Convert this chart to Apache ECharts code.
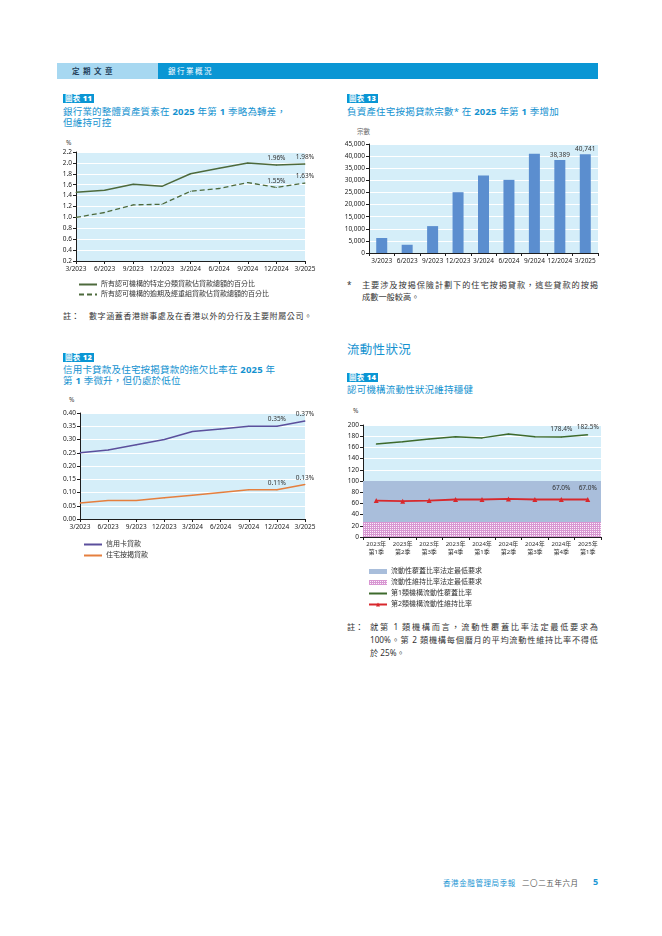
<!DOCTYPE html>
<html>
<head>
<meta charset="utf-8">
<script src="https://cdn.jsdelivr.net/npm/echarts@6/dist/echarts.min.js"></script>
<style>
  html, body { margin: 0; padding: 0; background: #fff; }
  body { width: 662px; height: 936px; position: relative; overflow: hidden;
         font-family: 'Noto Sans', 'Noto Sans CJK TC', sans-serif; }
  .abs { position: absolute; white-space: nowrap; }
  .tag { position: absolute; background: #0a96d4; color: #fff; font-size: 7.5px; font-weight: bold;
         height: 9px; line-height: 9px; padding: 0 2px; letter-spacing: 0.3px; }
  .title { position: absolute; color: #1492d0; font-size: 9.5px; line-height: 10.5px; letter-spacing: 0.2px; white-space: nowrap; }
  .title b { font-weight: bold; }
  .unit { position: absolute; font-size: 6.5px; color: #444; }
  .note { position: absolute; font-size: 8.2px; color: #333; line-height: 12.5px; white-space: nowrap; }
  .jl { text-align: justify; text-align-last: justify; white-space: normal; }
  .chart { position: absolute; }
</style>
</head>
<body>
<!-- page header -->
<div class="abs" style="left:57px;top:63px;width:101px;height:16px;background:#a7d8f1;"></div>
<div class="abs" style="left:158px;top:63px;width:440px;height:16px;background:#0a96d4;"></div>
<div class="abs" style="left:72px;top:63px;line-height:16px;font-size:7.5px;font-weight:bold;color:#23405a;letter-spacing:3.5px;">定期文章</div>
<div class="abs" style="left:168px;top:63px;line-height:16px;font-size:7.5px;color:#fff;letter-spacing:1.5px;">銀行業概況</div>

<!-- chart 11 texts -->
<div class="tag" style="left:63px;top:94px;">圖表 <b>11</b></div>
<div class="title" style="left:63px;top:107px;">銀行業的整體資產質素在 <b>2025</b> 年第 <b>1</b> 季略為轉差，<br>但維持可控</div>
<div class="unit" style="left:66px;top:138px;">%</div>
<div id="c11" class="chart" style="left:55px;top:135px;width:270px;height:170px;"></div>
<div class="note" style="left:63px;top:310px;">註：</div>
<div class="note" style="left:89px;top:310px;font-size:8px;letter-spacing:0.6px;">數字涵蓋香港辦事處及在香港以外的分行及主要附屬公司。</div>

<!-- chart 12 texts -->
<div class="tag" style="left:63px;top:353px;">圖表 <b>12</b></div>
<div class="title" style="left:63px;top:365px;">信用卡貸款及住宅按揭貸款的拖欠比率在 <b>2025</b> 年<br>第 <b>1</b> 季微升，但仍處於低位</div>
<div class="unit" style="left:69px;top:395px;">%</div>
<div id="c12" class="chart" style="left:55px;top:390px;width:270px;height:175px;"></div>

<!-- chart 13 texts -->
<div class="tag" style="left:347px;top:94px;">圖表 <b>13</b></div>
<div class="title" style="left:347px;top:107px;">負資產住宅按揭貸款宗數* 在 <b>2025</b> 年第 <b>1</b> 季增加</div>
<div class="unit" style="left:357px;top:126px;color:#666;">宗數</div>
<div id="c13" class="chart" style="left:335px;top:120px;width:270px;height:148px;"></div>
<div class="note" style="left:347px;top:279px;">*</div>
<div class="note jl" style="left:362px;top:279px;width:236px;">主要涉及按揭保險計劃下的住宅按揭貸款，這些貸款的按揭</div>
<div class="note" style="left:362px;top:291px;">成數一般較高。</div>

<!-- chart 14 texts -->
<div class="abs" style="left:347px;top:339px;font-size:12.5px;color:#1492d0;letter-spacing:0.3px;">流動性狀況</div>
<div class="tag" style="left:347px;top:373px;">圖表 <b>14</b></div>
<div class="title" style="left:347px;top:385px;">認可機構流動性狀況維持穩健</div>
<div class="unit" style="left:353px;top:406px;">%</div>
<div id="c14" class="chart" style="left:335px;top:400px;width:270px;height:215px;"></div>
<div class="note" style="left:347px;top:621px;">註：</div>
<div class="note jl" style="left:370px;top:621px;width:228px;">就第 1 類機構而言，流動性覆蓋比率法定最低要求為</div>
<div class="note jl" style="left:370px;top:634px;width:228px;">100%。第 2 類機構每個曆月的平均流動性維持比率不得低</div>
<div class="note" style="left:370px;top:647px;">於 25%。</div>

<!-- footer -->
<div class="abs" style="left:443px;top:877px;font-size:7.5px;color:#1a96d4;letter-spacing:0.6px;">香港金融管理局季報</div>
<div class="abs" style="left:522px;top:877px;font-size:7.5px;color:#555;letter-spacing:0.6px;">二〇二五年六月</div>
<div class="abs" style="left:593px;top:875px;font-size:9px;font-weight:bold;color:#1a96d4;">5</div>

<script>
// ---- data ----
const quarters = ['3/2023', '6/2023', '9/2023', '12/2023', '3/2024', '6/2024', '9/2024', '12/2024', '3/2025'];
const classifiedPct = [1.46, 1.50, 1.61, 1.57, 1.80, 1.90, 2.00, 1.96, 1.98];
const overduePct = [1.00, 1.09, 1.23, 1.24, 1.48, 1.53, 1.64, 1.55, 1.63];
const negEquityCases = [6200, 3400, 11100, 25100, 32000, 30200, 41000, 38389, 40741];
const creditCardPct = [0.25, 0.26, 0.28, 0.30, 0.33, 0.34, 0.35, 0.35, 0.37];
const mortgagePct = [0.06, 0.07, 0.07, 0.08, 0.09, 0.10, 0.11, 0.11, 0.13];
const liqQuarters = ['2023年\n第1季', '2023年\n第2季', '2023年\n第3季', '2023年\n第4季',
  '2024年\n第1季', '2024年\n第2季', '2024年\n第3季', '2024年\n第4季', '2025年\n第1季'];
const lcrPct = [166, 170, 175, 179, 177, 184, 179, 178.4, 182.5];
const lmrPct = [65, 64, 65, 67, 67, 68, 67, 67.0, 67.0];
const lcrFloor = 100;
const lmrFloor = 27;

const FONT = "'Noto Sans','Noto Sans CJK TC',sans-serif";
const BG = '#d5eef9';
const AX = '#1e1e1e';

// only the last two points carry a value label
function lastTwo(fmt) {
  return function (p) { return p.dataIndex >= 7 ? fmt(p.value) : ''; };
}

function catAxis(data, gap, extra) {
  return Object.assign({
    type: 'category', data: data, boundaryGap: gap,
    axisLine: { show: true, lineStyle: { color: AX, width: 1 } },
    axisTick: { show: true, length: 3, lineStyle: { color: AX } },
    axisLabel: { fontSize: 6.5, color: '#222', margin: 5, interval: 0, fontFamily: FONT },
    splitLine: { show: false }
  }, extra || {});
}

function valAxis(min, max, step, fmt) {
  return {
    type: 'value', min: min, max: max, interval: step,
    axisLine: { show: true, lineStyle: { color: AX, width: 1 } },
    axisTick: { show: true, length: 3, lineStyle: { color: AX } },
    axisLabel: { fontSize: 6.5, color: '#222', margin: 4, formatter: fmt, fontFamily: FONT },
    splitLine: { show: true, lineStyle: { color: '#ffffff', width: 1 } }
  };
}

function legendBox(left, top, gap) {
  return {
    orient: 'vertical', left: left, top: top, itemGap: gap, itemWidth: 18, itemHeight: 6,
    selectedMode: false,
    textStyle: { fontSize: 7, color: '#333', fontFamily: FONT, padding: [0, 0, 0, -1] }
  };
}

function grid(l, t, r, b) {
  return { left: l, top: t, right: r, bottom: b, show: true, backgroundColor: BG, borderWidth: 0,
           containLabel: false, outerBoundsMode: 'none' };
}

const labelStyle = { show: true, position: 'top', distance: 3, fontSize: 6.5, color: '#333', fontFamily: FONT };
const noDot = { opacity: 0 };   // hide the symbol in a legend icon, keep its line

function pctLabel(digits, dist) {
  return Object.assign({}, labelStyle, { distance: dist,
    formatter: lastTwo(function (v) { return v.toFixed(digits) + '%'; }) });
}

// ---- chart 11 ----
echarts.init(document.getElementById('c11')).setOption({
  animation: false,
  textStyle: { fontFamily: FONT },
  grid: grid(21, 17, 20, 44),
  xAxis: catAxis(quarters, false),
  yAxis: valAxis(0.2, 2.2, 0.2, function (v) { return v.toFixed(1); }),
  legend: Object.assign(legendBox(18, 141, 3), {
    data: [
      { name: '所有認可機構的特定分類貸款佔貸款總額的百分比', itemStyle: noDot },
      { name: '所有認可機構的逾期及經重組貸款佔貸款總額的百分比', itemStyle: noDot }
    ]
  }),
  series: [
    { name: '所有認可機構的特定分類貸款佔貸款總額的百分比', type: 'line', data: classifiedPct,
      symbol: 'circle', symbolSize: 1, lineStyle: { color: '#4d6a3c', width: 1.5 }, itemStyle: { color: '#4d6a3c' },
      label: pctLabel(2, 3) },
    { name: '所有認可機構的逾期及經重組貸款佔貸款總額的百分比', type: 'line', data: overduePct,
      symbol: 'circle', symbolSize: 1, lineStyle: { color: '#4d6a3c', width: 1.3, type: [5, 3] }, itemStyle: { color: '#4d6a3c' },
      label: pctLabel(2, 3) }
  ]
});

// ---- chart 12 ----
echarts.init(document.getElementById('c12')).setOption({
  animation: false,
  textStyle: { fontFamily: FONT },
  grid: grid(25, 23, 20, 46),
  xAxis: catAxis(quarters, false),
  yAxis: valAxis(0, 0.40, 0.05, function (v) { return v.toFixed(2); }),
  legend: Object.assign(legendBox(23, 146, 4), {
    data: [{ name: '信用卡貸款', itemStyle: noDot }, { name: '住宅按揭貸款', itemStyle: noDot }]
  }),
  series: [
    { name: '信用卡貸款', type: 'line', data: creditCardPct, symbol: 'circle', symbolSize: 1,
      lineStyle: { color: '#5b4f9c', width: 1.5 }, itemStyle: { color: '#5b4f9c' },
      label: pctLabel(2, 3) },
    { name: '住宅按揭貸款', type: 'line', data: mortgagePct, symbol: 'circle', symbolSize: 1,
      lineStyle: { color: '#e57f3e', width: 1.5 }, itemStyle: { color: '#e57f3e' },
      label: pctLabel(2, 3) }
  ]
});

// ---- chart 13 ----
echarts.init(document.getElementById('c13')).setOption({
  animation: false,
  textStyle: { fontFamily: FONT },
  grid: grid(34, 24, 7, 15),
  xAxis: catAxis(quarters, true),
  yAxis: valAxis(0, 45000, 5000, function (v) { return v.toLocaleString('en-US'); }),
  series: [
    { type: 'bar', data: negEquityCases, barWidth: 11, itemStyle: { color: '#5b8ecf' },
      label: Object.assign({}, labelStyle, { distance: 2,
        formatter: lastTwo(function (v) { return v.toLocaleString('en-US'); }) }) }
  ]
});

// ---- chart 14 ----
// pink grid texture for the liquidity-maintenance floor band
function dotPattern() {
  const c = document.createElement('canvas');
  c.width = 2; c.height = 2;
  const g = c.getContext('2d');
  g.fillStyle = '#d896d2';
  g.fillRect(0, 0, 2, 2);
  g.fillStyle = '#fbf1fa';
  g.fillRect(1, 1, 1, 1);
  return c;
}
const pinkDots = { image: dotPattern(), repeat: 'repeat' };
const LCR_FLOOR = '流動性覆蓋比率法定最低要求';
const LMR_FLOOR = '流動性維持比率法定最低要求';
const LCR = '第1類機構流動性覆蓋比率';
const LMR = '第2類機構流動性維持比率';

echarts.init(document.getElementById('c14')).setOption({
  animation: false,
  textStyle: { fontFamily: FONT },
  grid: grid(28, 25, 4, 78),
  xAxis: catAxis(liqQuarters, true, {
    axisLabel: { fontSize: 6, color: '#333', margin: 3, interval: 0, lineHeight: 8, fontFamily: FONT }
  }),
  yAxis: valAxis(0, 200, 20, function (v) { return String(v); }),
  legend: Object.assign(legendBox(28, 163, 4), {
    itemWidth: 18, itemHeight: 5,
    data: [
      { name: LCR_FLOOR, icon: 'rect', itemStyle: { color: '#a9bedb' } },
      { name: LMR_FLOOR, icon: 'rect', itemStyle: { color: pinkDots } },
      { name: LCR, itemStyle: noDot },
      { name: LMR }
    ]
  }),
  series: [
    { name: LCR_FLOOR, type: 'bar', data: [], itemStyle: { color: '#a9bedb' },
      markArea: { silent: true, itemStyle: { color: '#a9bedb' },
        data: [[{ yAxis: lmrFloor }, { yAxis: lcrFloor }]] } },
    { name: LMR_FLOOR, type: 'bar', data: [], itemStyle: { color: pinkDots },
      markArea: { silent: true, itemStyle: { color: pinkDots },
        data: [[{ yAxis: 0 }, { yAxis: lmrFloor }]] } },
    { name: LCR, type: 'line', data: lcrPct, symbol: 'circle', symbolSize: 1, z: 5,
      lineStyle: { color: '#3d6a2c', width: 1.5 }, itemStyle: { color: '#3d6a2c' },
      label: pctLabel(1, 4) },
    { name: LMR, type: 'line', data: lmrPct, symbol: 'triangle', symbolSize: 5, z: 5,
      lineStyle: { color: '#d8282c', width: 1.8 }, itemStyle: { color: '#d8282c' },
      label: pctLabel(1, 6) }
  ]
});
</script>
</body>
</html>
